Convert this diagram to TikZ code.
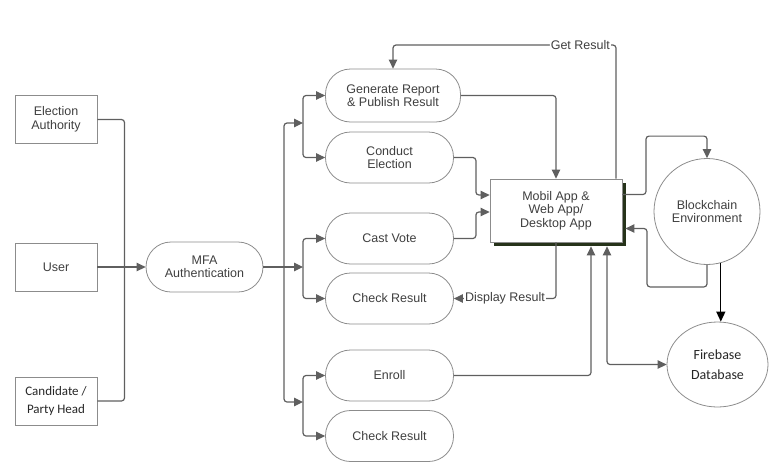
\documentclass[tikz,border=0pt]{standalone}
\usepackage{fontspec}
\setmainfont{Liberation Sans}
\newfontfamily\calibrifont{Carlito}
\usetikzlibrary{shapes.geometric, arrows.meta, positioning, calc, shadows}

\definecolor{linegray}{HTML}{5F5F5F}
\definecolor{edgegray}{HTML}{8C8C8C}
\definecolor{textgray}{HTML}{3F3F3F}
\definecolor{shadowgreen}{HTML}{26331A}

\begin{document}
\begin{tikzpicture}[
    x=1pt, y=-1pt,
    actor/.style={
        rectangle, draw=edgegray, line width=0.8pt,
        minimum width=82pt, minimum height=48pt,
        align=center, text=textgray, font=\fontsize{12.5}{14}\selectfont
    },
    task/.style={
        rectangle, rounded corners=25pt, draw=edgegray, line width=0.8pt,
        minimum width=128pt, minimum height=51pt,
        align=center, text=textgray, font=\fontsize{12.5}{13.5}\selectfont
    },
    app/.style={
        rectangle, draw=edgegray, fill=white, line width=0.8pt,
        minimum width=132pt, minimum height=63pt,
        align=center, text=textgray, font=\fontsize{12.5}{13.5}\selectfont,
        general shadow={fill=shadowgreen, shadow xshift=3.5pt, shadow yshift=-3.5pt}
    },
    store/.style={
        draw=edgegray, line width=0.8pt, align=center, inner sep=0pt
    },
    link/.style={draw=linegray, line width=1.2pt, rounded corners=3pt},
    arr/.style={link, -{Triangle[length=9pt, width=8.5pt]}},
    lbl/.style={fill=white, inner sep=1pt, text=textgray, font=\fontsize{12.5}{13.5}\selectfont},
]
\useasboundingbox (0,0) rectangle (782,472);

% Actors
\node[actor] (auth) at (56,119.5) {Election\\Authority};
\node[actor] (user) at (56,267) {User};
\node[actor, text=black!85, font=\calibrifont\fontsize{13}{18}\selectfont] (cand) at (56,401) {Candidate /\\Party Head};

% MFA
\node[task, minimum width=117pt, minimum height=50pt] (mfa) at (204.5,267) {MFA\\Authentication};

% ============ Tasks ============
\node[task, minimum width=135pt, minimum height=53pt] (gen) at (393,95.5) {Generate Report\\\& Publish Result};
\node[task] (cond) at (389.5,157.5) {Conduct\\Election};
\node[task] (cast) at (389.5,238.5) {Cast Vote};
\node[task] (check) at (389.5,298.5) {Check Result};
\node[task] (enroll) at (389.5,375.5) {Enroll};
\node[task] (recheck) at (389.5,436) {Check Result};

% ============ Platform ============
\node[app] (app) at (556,210.5) {Mobil App \&\\Web App/\\Desktop App};
\node[store, circle, minimum size=106pt, font=\fontsize{12.5}{13.5}\selectfont, text=textgray] (chain) at (707,211.5) {Blockchain\\Environment};
\node[store, ellipse, minimum width=101pt, minimum height=85pt, text=black!85, font=\calibrifont\fontsize{14}{20}\selectfont] (fire) at (717.5,364.5) {Firebase\\Database};

% ============ Arrows ============
% actors into MFA
\coordinate (merge) at (124.5,267);
\draw[link] (auth.east) -| (merge);
\draw[link] (cand.east) -| (merge);
\draw[arr] (user) -- (mfa);

% MFA out to the three groups
\coordinate (split) at (284,267);
\coordinate (grpA) at (303,123);
\coordinate (grpB) at (303,267);
\coordinate (grpC) at (303,402);
\draw[link] (mfa) -- (split);
\draw[arr] (split) |- (grpA);
\draw[arr] (split) -- (grpB);
\draw[arr] (split) |- (grpC);

\draw[arr] (grpA) |- (gen.west);
\draw[arr] (grpA) |- (cond.west);
\draw[arr] (grpB) |- (cast.west);
\draw[arr] (grpB) |- (check.west);
\draw[arr] (grpC) |- (enroll.west);
\draw[arr] (grpC) |- (recheck.west);

% tasks into the app
\draw[arr] (gen.east) -| (app.north);
\draw[arr] (cond.east) -- ++(22,0) |- ($(app.west)+(0,-15.5)$);
\draw[arr] (cast.east) -- ++(22,0) |- ($(app.west)+(0,1.5)$);
\draw[arr, shorten >=4pt] (enroll.east) -| ($(app.south)+(35,0)$);

% results back
\coordinate (getr) at (616,45);
\draw[arr] ($(app.north)+(60,0)$) -- (getr) -| node[lbl, pos=0.08] {Get Result} (gen.north);
\draw[arr] (app.south) |- node[lbl, pos=0.75] {Display Result} (check.east);

% blockchain and firebase
\draw[arr] ($(app.east)+(0,-16)$) -| ($(chain.north)+(-61,-22)$) -| (chain.north);
\draw[arr, shorten >=3pt] (chain.south) |- ($(chain.south)+(-60,22)$) |- ($(app.east)+(0,18)$);
\draw[-{Triangle[length=10pt, width=9pt]}, line width=1.3pt, black] (chain.285) -- (chain.285 |- fire.north);
\draw[link, {Triangle[length=9pt, width=8.5pt]}-{Triangle[length=9pt, width=8.5pt]}, shorten >=4pt] (fire.west) -| ($(app.south)+(51,0)$);

\end{tikzpicture}
\end{document}
